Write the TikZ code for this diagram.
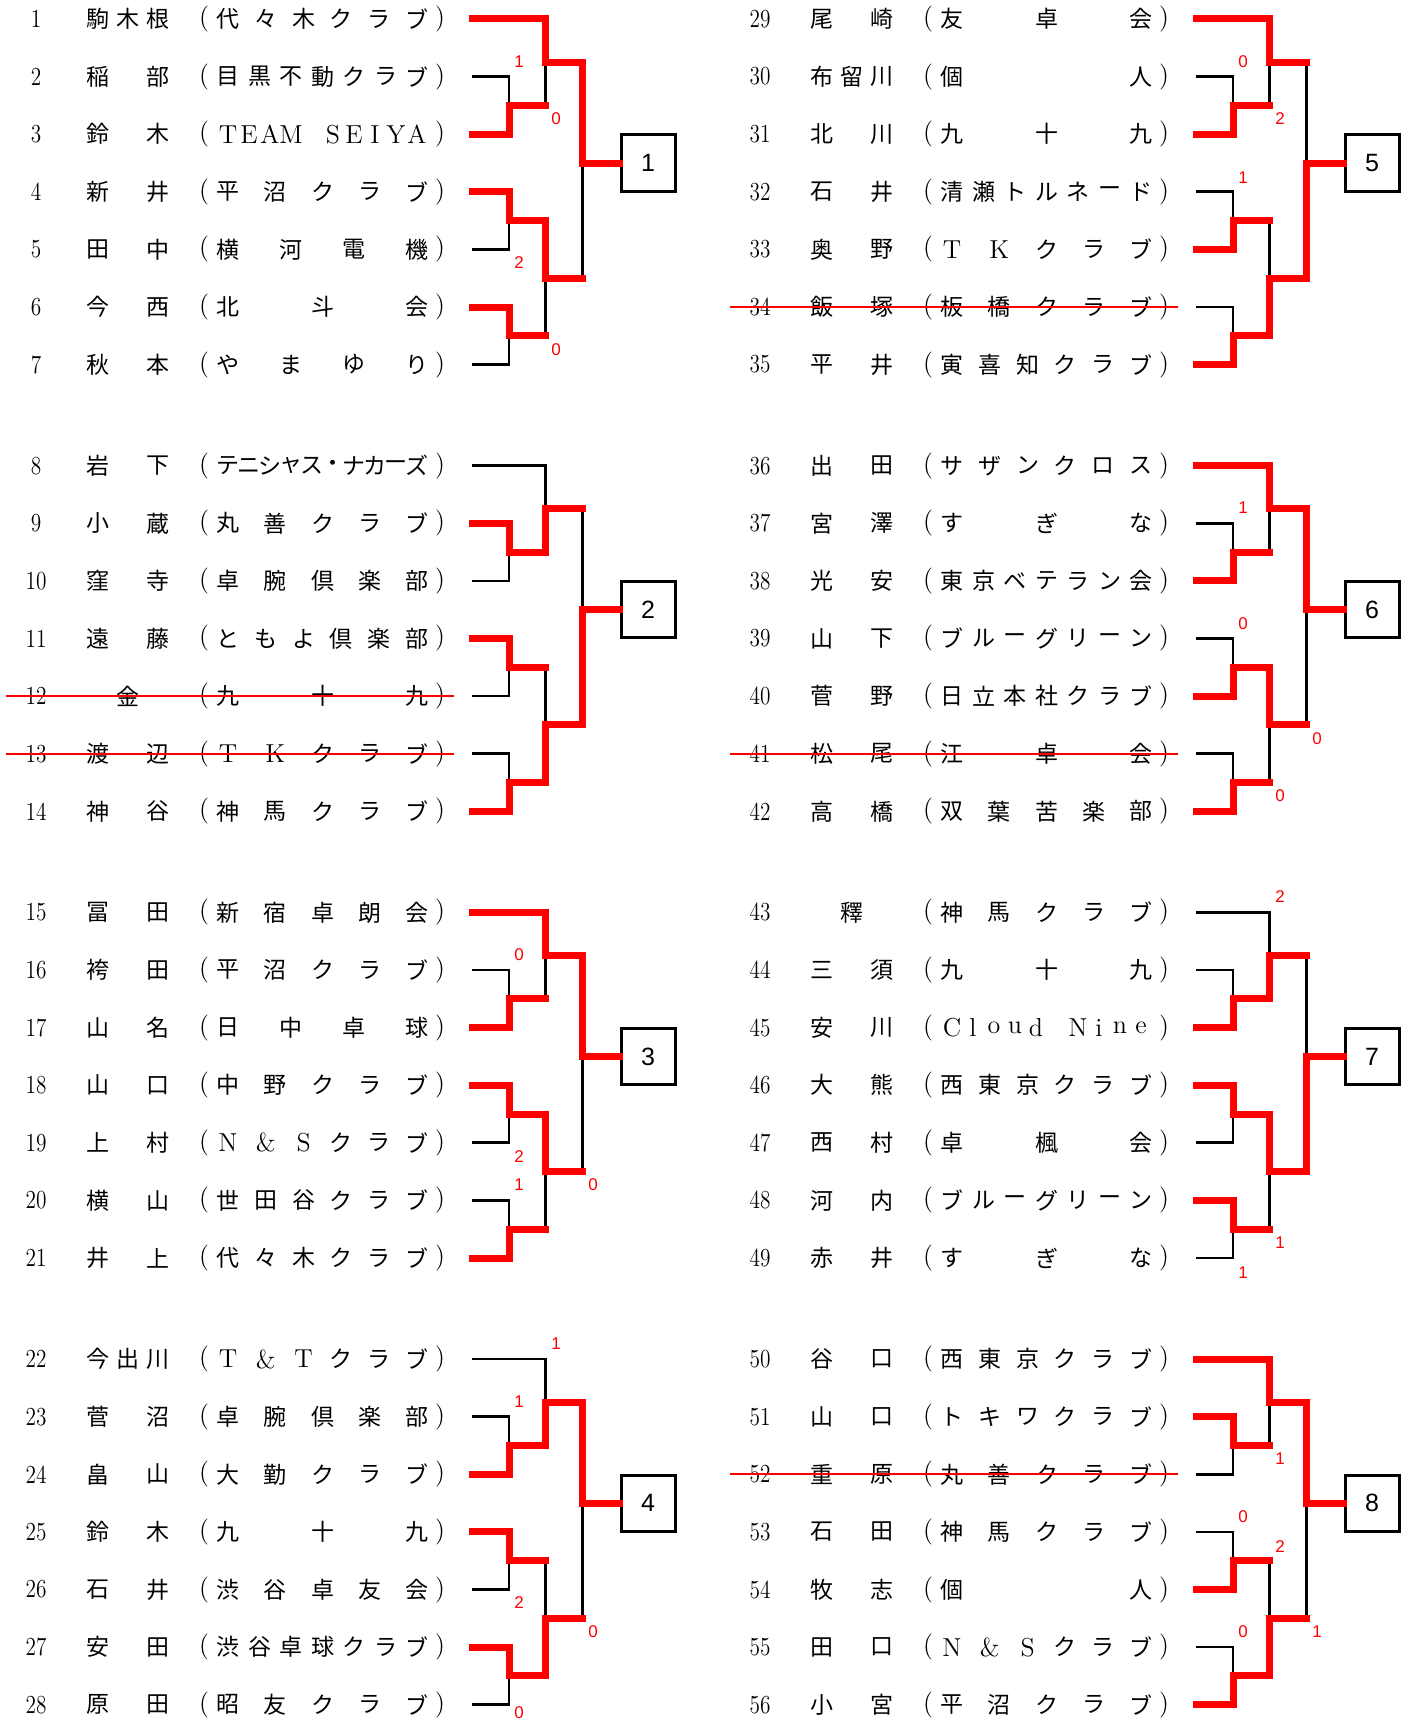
\documentclass[tikz,border=0pt]{standalone}
\usepackage{fontspec}
\usepackage{tikz}
\newfontfamily\jp{Noto Sans CJK JP}
\newfontfamily\boxfont{Liberation Sans}
\definecolor{winred}{RGB}{255,0,0}
\newcommand{\lat}[1]{{\rmfamily\fontsize{13}{15}\selectfont #1}}
\newcommand{\narrow}[1]{\scalebox{0.82}[1]{#1}}
\newcount\spn

% spread a list of characters evenly between two x positions
\newcommand{\spread}[5]{%
  \global\spn=0
  \foreach \c in {#5}{\global\advance\spn by 1}
  \ifnum\spn=1
    \node[txt] (#1-1) at ({((#2)+(#3))/2},#4) {#5};
  \else
    \foreach \c [count=\i] in {#5}
      \node[txt] (#1-\i) at ({(#2)+(\i-1)*((#3)-(#2))/(\the\spn-1)},#4) {\c};
  \fi
}

% one line of the draw: number, name, (club)
\newcommand{\player}[3]{%
  \pgfmathtruncatemacro\pk{#1-1-28*(#1>28)}
  \pgfmathsetmacro\px{724*(#1>28)}
  \pgfmathsetmacro\py{19+446.7*floor(\pk/7)+57.6*mod(\pk,7)}
  \node[num] (n#1) at (36+\px,\py) {\narrow{#1}};
  \spread{nm#1}{98+\px}{158+\px}{\py}{#2}
  \node[paren] (lp#1) at (204+\px,\py) {(};
  \spread{cl#1}{228+\px}{417+\px}{\py}{#3}
  \node[paren] (rp#1) at (440+\px,\py) {)};
}

% bracket of seven lines and its result box
\newcommand{\bracket}[3]{%
  \foreach \i in {1,...,7}
    \coordinate (b#1s\i) at (472+#2,{#3+57.6*(\i-1)});
  \coordinate (b#1j23) at (509+#2,#3+86.4);
  \coordinate (b#1j45) at (509+#2,#3+201.6);
  \coordinate (b#1j67) at (509+#2,#3+316.8);
  \coordinate (b#1tA) at (545.5+#2,#3+43.2);
  \coordinate (b#1tB) at (545.5+#2,#3+259.2);
  \coordinate (b#1f) at (582.5+#2,#3+144);
  \node[res] (box#1) at (648+#2,#3+144) {#1};
  \draw[lose] (b#1s2) -| (b#1j23) |- (b#1s3);
  \draw[lose] (b#1s4) -| (b#1j45) |- (b#1s5);
  \draw[lose] (b#1s6) -| (b#1j67) |- (b#1s7);
  \draw[lose] (b#1s1) -| (b#1tA) |- (b#1j23);
  \draw[lose] (b#1j45) -| (b#1tB) |- (b#1j67);
  \draw[lose] (b#1tA) -| (b#1f) |- (b#1tB);
  \draw[lose] (b#1f) -- (box#1.west);
}

\begin{document}
\begin{tikzpicture}[
  x=0.5pt, y=-0.5pt,
  txt/.style={font=\jp\fontsize{11.5}{13}\selectfont, inner sep=0pt},
  num/.style={font=\rmfamily\fontsize{13}{15}\selectfont, inner sep=0pt},
  paren/.style={font=\rmfamily\fontsize{13}{15}\selectfont, inner sep=0pt},
  res/.style={draw, line width=1.5pt, minimum width=27pt, minimum height=28pt, inner sep=0pt, font=\boxfont\fontsize{12.5}{14}\selectfont},
  score/.style={text=winred, inner sep=0pt, font=\boxfont\fontsize{8.5}{10}\selectfont},
  lose/.style={line width=1.35pt},
  win/.style={draw=winred, line width=3.5pt, line cap=rect},
  strike/.style={draw=winred, line width=1pt}
]
\useasboundingbox (0,0) rectangle (1412,1723);

\player{1}{駒,木,根}{代,々,木,ク,ラ,ブ}
\player{2}{稲,部}{目,黒,不,動,ク,ラ,ブ}
\player{3}{鈴,木}{\lat{T},\lat{E},\lat{A},\lat{M},\relax,\lat{S},\lat{E},\lat{I},\lat{Y},\lat{A}}
\player{4}{新,井}{平,沼,ク,ラ,ブ}
\player{5}{田,中}{横,河,電,機}
\player{6}{今,西}{北,斗,会}
\player{7}{秋,本}{や,ま,ゆ,り}
\player{8}{岩,下}{テ,ニ,シ,ャ,ス,・,ナ,カ,ー,ズ}
\player{9}{小,蔵}{丸,善,ク,ラ,ブ}
\player{10}{窪,寺}{卓,腕,倶,楽,部}
\player{11}{遠,藤}{と,も,よ,倶,楽,部}
\player{12}{金}{九,十,九}
\player{13}{渡,辺}{\lat{T},\lat{K},ク,ラ,ブ}
\player{14}{神,谷}{神,馬,ク,ラ,ブ}
\player{15}{冨,田}{新,宿,卓,朗,会}
\player{16}{袴,田}{平,沼,ク,ラ,ブ}
\player{17}{山,名}{日,中,卓,球}
\player{18}{山,口}{中,野,ク,ラ,ブ}
\player{19}{上,村}{\lat{N},\lat{\&},\lat{S},ク,ラ,ブ}
\player{20}{横,山}{世,田,谷,ク,ラ,ブ}
\player{21}{井,上}{代,々,木,ク,ラ,ブ}
\player{22}{今,出,川}{\lat{T},\lat{\&},\lat{T},ク,ラ,ブ}
\player{23}{菅,沼}{卓,腕,倶,楽,部}
\player{24}{畠,山}{大,勤,ク,ラ,ブ}
\player{25}{鈴,木}{九,十,九}
\player{26}{石,井}{渋,谷,卓,友,会}
\player{27}{安,田}{渋,谷,卓,球,ク,ラ,ブ}
\player{28}{原,田}{昭,友,ク,ラ,ブ}
\player{29}{尾,崎}{友,卓,会}
\player{30}{布,留,川}{個,人}
\player{31}{北,川}{九,十,九}
\player{32}{石,井}{清,瀬,ト,ル,ネ,ー,ド}
\player{33}{奥,野}{\lat{T},\lat{K},ク,ラ,ブ}
\player{34}{飯,塚}{板,橋,ク,ラ,ブ}
\player{35}{平,井}{寅,喜,知,ク,ラ,ブ}
\player{36}{出,田}{サ,ザ,ン,ク,ロ,ス}
\player{37}{宮,澤}{す,ぎ,な}
\player{38}{光,安}{東,京,ベ,テ,ラ,ン,会}
\player{39}{山,下}{ブ,ル,ー,グ,リ,ー,ン}
\player{40}{菅,野}{日,立,本,社,ク,ラ,ブ}
\player{41}{松,尾}{江,卓,会}
\player{42}{高,橋}{双,葉,苦,楽,部}
\player{43}{釋}{神,馬,ク,ラ,ブ}
\player{44}{三,須}{九,十,九}
\player{45}{安,川}{\lat{C},\lat{l},\lat{o},\lat{u},\lat{d},\relax,\lat{N},\lat{i},\lat{n},\lat{e}}
\player{46}{大,熊}{西,東,京,ク,ラ,ブ}
\player{47}{西,村}{卓,楓,会}
\player{48}{河,内}{ブ,ル,ー,グ,リ,ー,ン}
\player{49}{赤,井}{す,ぎ,な}
\player{50}{谷,口}{西,東,京,ク,ラ,ブ}
\player{51}{山,口}{ト,キ,ワ,ク,ラ,ブ}
\player{52}{重,原}{丸,善,ク,ラ,ブ}
\player{53}{石,田}{神,馬,ク,ラ,ブ}
\player{54}{牧,志}{個,人}
\player{55}{田,口}{\lat{N},\lat{\&},\lat{S},ク,ラ,ブ}
\player{56}{小,宮}{平,沼,ク,ラ,ブ}

% withdrawn entries
\foreach \w in {12,13,34,41,52}
  \draw[strike] ([xshift=-15pt]n\w.center) -- ([xshift=7pt]rp\w.center);

\bracket{1}{0}{19}
\bracket{2}{0}{465.7}
\bracket{3}{0}{912.4}
\bracket{4}{0}{1359.1}
\bracket{5}{724}{19}
\bracket{6}{724}{465.7}
\bracket{7}{724}{912.4}
\bracket{8}{724}{1359.1}

% winners
\draw[win] (b1s1) -| (b1tA) -| (b1f) -- (box1.west);
\draw[win] (b1s3) -| (b1j23) -- (b1j23 -| b1tA);
\draw[win] (b1s4) -| (b1j45) -| (b1tB) -- (b1tB -| b1f);
\draw[win] (b1s6) -| (b1j67) -- (b1j67 -| b1tB);

\draw[win] (b2s2) -| (b2j23) -| (b2tA) -- (b2tA -| b2f);
\draw[win] (b2s4) -| (b2j45) -- (b2j45 -| b2tB);
\draw[win] (b2s7) -| (b2j67) -| (b2tB) -| (b2f) -- (box2.west);

\draw[win] (b3s1) -| (b3tA) -| (b3f) -- (box3.west);
\draw[win] (b3s3) -| (b3j23) -- (b3j23 -| b3tA);
\draw[win] (b3s4) -| (b3j45) -| (b3tB) -- (b3tB -| b3f);
\draw[win] (b3s7) -| (b3j67) -- (b3j67 -| b3tB);

\draw[win] (b4s3) -| (b4j23) -| (b4tA) -| (b4f) -- (box4.west);
\draw[win] (b4s4) -| (b4j45) -- (b4j45 -| b4tB);
\draw[win] (b4s6) -| (b4j67) -| (b4tB) -- (b4tB -| b4f);

\draw[win] (b5s1) -| (b5tA) -- (b5tA -| b5f);
\draw[win] (b5s3) -| (b5j23) -- (b5j23 -| b5tA);
\draw[win] (b5s5) -| (b5j45) -- (b5j45 -| b5tB);
\draw[win] (b5s7) -| (b5j67) -| (b5tB) -| (b5f) -- (box5.west);

\draw[win] (b6s1) -| (b6tA) -| (b6f) -- (box6.west);
\draw[win] (b6s3) -| (b6j23) -- (b6j23 -| b6tA);
\draw[win] (b6s5) -| (b6j45) -| (b6tB) -- (b6tB -| b6f);
\draw[win] (b6s7) -| (b6j67) -- (b6j67 -| b6tB);

\draw[win] (b7s3) -| (b7j23) -| (b7tA) -- (b7tA -| b7f);
\draw[win] (b7s4) -| (b7j45) -| (b7tB) -| (b7f) -- (box7.west);
\draw[win] (b7s6) -| (b7j67) -- (b7j67 -| b7tB);

\draw[win] (b8s1) -| (b8tA) -| (b8f) -- (box8.west);
\draw[win] (b8s2) -| (b8j23) -- (b8j23 -| b8tA);
\draw[win] (b8s5) -| (b8j45) -- (b8j45 -| b8tB);
\draw[win] (b8s7) -| (b8j67) -| (b8tB) -- (b8tB -| b8f);

% game scores
\foreach \x/\y/\t [count=\k] in {519/62/1, 556/119/0, 519/263/2, 556/350/0,
    519/955/0, 519/1157/2, 519/1185/1, 593/1185/0,
    556/1344/1, 519/1402/1, 519/1603/2, 593/1632/0, 519/1713/0,
    1243/62/0, 1280/119/2, 1243/178/1,
    1243/508/1, 1243/624/0, 1317/739/0, 1280/796/0,
    1280/897/2, 1280/1243/1, 1243/1273/1,
    1280/1459/1, 1243/1517/0, 1280/1547/2, 1243/1632/0, 1317/1632/1}
  \node[score] (sc\k) at (\x,\y) {\t};
\end{tikzpicture}
\end{document}
